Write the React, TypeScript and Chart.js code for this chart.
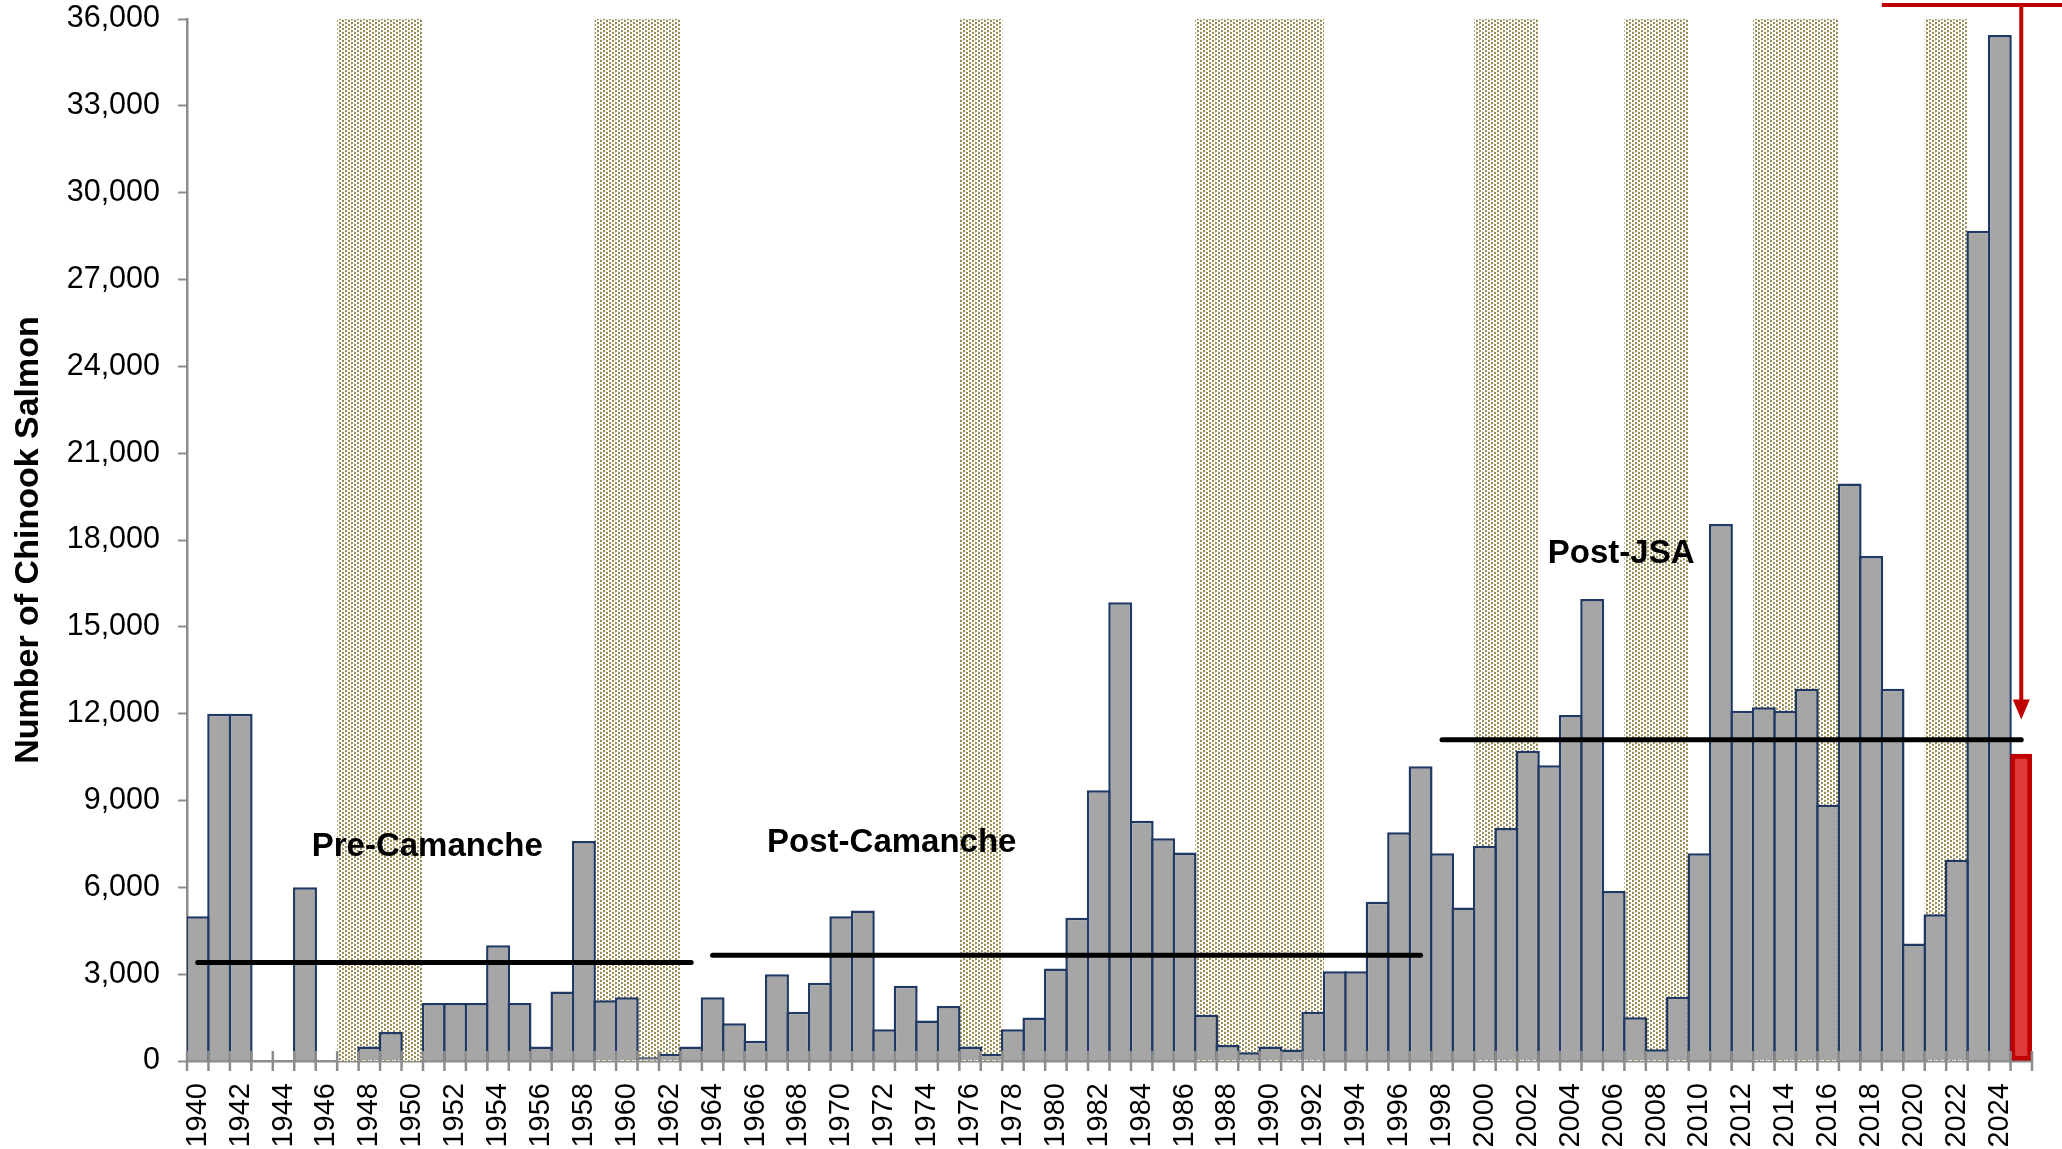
import React, { useEffect, useRef } from 'react';
import { Chart, registerables } from 'chart.js';

Chart.register(...registerables);

// ---- categories ----
const years: string[] = [
  '1940', '1941', '1942', '1943', '1944', '1945', '1946', '1947', '1948', '1949',
  '1950', '1951', '1952', '1953', '1954', '1955', '1956', '1957', '1958', '1959',
  '1960', '1961', '1962', '1963', '1964', '1965', '1966', '1967', '1968', '1969',
  '1970', '1971', '1972', '1973', '1974', '1975', '1976', '1977', '1978', '1979',
  '1980', '1981', '1982', '1983', '1984', '1985', '1986', '1987', '1988', '1989',
  '1990', '1991', '1992', '1993', '1994', '1995', '1996', '1997', '1998', '1999',
  '2000', '2001', '2002', '2003', '2004', '2005', '2006', '2007', '2008', '2009',
  '2010', '2011', '2012', '2013', '2014', '2015', '2016', '2017', '2018', '2019',
  '2020', '2021', '2022', '2023', '2024', '2025',
];

// ---- Chinook salmon escapement, 1940-2024 ----
const chinookCounts: (number | null)[] = [
  5000, 12000, 12000, null, null, 6000, null, null, 500, 1000,
  null, 2000, 2000, 2000, 4000, 2000, 500, 2400, 7600, 2100,
  2200, 130, 250, 500, 2200, 1300, 700, 3000, 1700, 2700,
  5000, 5200, 1100, 2600, 1400, 1900, 500, 250, 1100, 1500,
  3200, 4950, 9350, 15850, 8300, 7700, 7200, 1600, 550, 300,
  500, 400, 1700, 3100, 3100, 5500, 7900, 10180, 7180, 5300,
  7440, 8050, 10720, 10220, 11950, 15960, 5870, 1510, 410, 2220,
  7180, 18550, 12100, 12220, 12100, 12860, 8850, 19950, 17450, 12860,
  4060, 5070, 6950, 28680, 35450,
];

// ---- 2025 (highlighted) ----
const highlightYear = '2025';
const highlightCount = 10600;

// ---- period averages ----
const periodNames = ['Pre-Camanche', 'Post-Camanche', 'Post-JSA'];
const periodStartYears = ['1940', '1964', '1998'];
const periodEndYears = ['1963', '1997', '2025'];
const periodAverages = [3400, 3650, 11100];
// label anchors (fractional year, value)
const periodLabelYears = [1950.7, 1972.35, 2006.35];
const periodLabelValues = [7400, 7540, 17530];

// ---- shaded (dry) periods ----
const shadedStartYears = [1947, 1959, 1976, 1987, 2000, 2007, 2013, 2021];
const shadedEndYears = [1950, 1962, 1977, 1992, 2002, 2009, 2016, 2022];

// ---- y axis ----
const yMax = 36000;
const yStep = 3000;
const arrowTipValue = 11800;
const bracketStartYear = 2019;

const FONT = "'Liberation Sans', Arial, sans-serif";

function makePattern(ctx: CanvasRenderingContext2D) {
  const c = document.createElement('canvas');
  c.width = 6;
  c.height = 4;
  const p = c.getContext('2d')!;
  p.fillStyle = '#ffffff';
  p.fillRect(0, 0, 6, 4);
  p.fillStyle = '#978D55';
  p.fillRect(0, 0, 2, 2);
  p.fillRect(3, 2, 2, 2);
  p.fillStyle = '#CFC9A8';
  p.fillRect(0, 3, 1, 1);
  p.fillRect(3, 0, 1, 1);
  return ctx.createPattern(c, 'repeat');
}

const firstYear = parseInt(years[0], 10);

const decorPlugin = {
  id: 'decor',
  beforeDatasetsDraw(chart: any) {
    const { ctx, chartArea } = chart;
    const xs = chart.scales.x;
    const catW = (xs.right - xs.left) / years.length;
    const pat = makePattern(ctx);
    ctx.save();
    ctx.fillStyle = pat || '#D9D4B8';
    for (let i = 0; i < shadedStartYears.length; i++) {
      const x0 = xs.getPixelForValue(shadedStartYears[i] - firstYear) - catW / 2;
      const x1 = xs.getPixelForValue(shadedEndYears[i] - firstYear) + catW / 2;
      ctx.fillRect(x0, chartArea.top, x1 - x0, chartArea.bottom - chartArea.top);
    }
    ctx.restore();
  },
  afterDatasetsDraw(chart: any) {
    const { ctx } = chart;
    const xs = chart.scales.x;
    const ys = chart.scales.y;
    const n = years.length;
    const catW = (xs.right - xs.left) / n;
    const bottom = ys.getPixelForValue(0);
    // crossing tick marks on x axis
    ctx.save();
    ctx.strokeStyle = '#8C8C8C';
    ctx.lineWidth = 2.5;
    for (let i = 0; i <= n; i++) {
      const x = xs.left + i * catW;
      ctx.beginPath();
      ctx.moveTo(x, bottom - 10);
      ctx.lineTo(x, bottom + 10);
      ctx.stroke();
    }
    ctx.restore();
    // period labels
    ctx.save();
    ctx.fillStyle = '#000';
    ctx.font = `bold 33px ${FONT}`;
    ctx.textAlign = 'center';
    ctx.textBaseline = 'middle';
    for (let i = 0; i < periodNames.length; i++) {
      const x = xs.getPixelForValue(periodLabelYears[i] - firstYear);
      const y = ys.getPixelForValue(periodLabelValues[i]);
      ctx.fillText(periodNames[i], x, y);
    }
    ctx.restore();
  },
  afterDraw(chart: any) {
    const { ctx } = chart;
    const xs = chart.scales.x;
    const ys = chart.scales.y;
    const catW = (xs.right - xs.left) / years.length;
    const ax = xs.getPixelForValue(years.indexOf(highlightYear));
    const tipY = ys.getPixelForValue(arrowTipValue);
    const topY = 5;
    const headH = 20;
    const headW = 17;
    ctx.save();
    ctx.strokeStyle = '#C00000';
    ctx.fillStyle = '#C00000';
    ctx.lineWidth = 4;
    ctx.beginPath();
    ctx.moveTo(xs.getPixelForValue(bracketStartYear - firstYear) - catW / 2, topY);
    ctx.lineTo(chart.width, topY);
    ctx.stroke();
    ctx.beginPath();
    ctx.moveTo(ax, topY);
    ctx.lineTo(ax, tipY - headH + 2);
    ctx.stroke();
    ctx.beginPath();
    ctx.moveTo(ax, tipY);
    ctx.lineTo(ax - headW / 2, tipY - headH);
    ctx.lineTo(ax + headW / 2, tipY - headH);
    ctx.closePath();
    ctx.fill();
    ctx.restore();
  },
};

export default function App() {
  const canvasRef = useRef<HTMLCanvasElement | null>(null);

  useEffect(() => {
    const canvas = canvasRef.current;
    if (!canvas) return;

    const lineDatasets: any[] = periodAverages.map((avg, i) => ({
      type: 'line',
      label: periodNames[i] + ' average',
      data: [
        { x: periodStartYears[i], y: avg },
        { x: periodEndYears[i], y: avg },
      ],
      borderColor: '#000000',
      borderWidth: 5,
      borderCapStyle: 'round',
      pointRadius: 0,
      fill: false,
      order: 0,
    }));

    const chart = new Chart(canvas, {
      type: 'bar',
      data: {
        labels: years,
        datasets: [
          ...lineDatasets,
          {
            type: 'bar',
            label: '2025',
            data: years.map((y) => (y === highlightYear ? highlightCount : null)),
            backgroundColor: '#DF3A3A',
            borderColor: '#C00000',
            borderWidth: 5,
            borderSkipped: false,
            categoryPercentage: 1,
            barPercentage: 1,
            grouped: false,
            order: 1,
          },
          {
            type: 'bar',
            label: 'Chinook Salmon',
            data: chinookCounts,
            backgroundColor: '#A6A6A6',
            borderColor: '#1F3864',
            borderWidth: { top: 2.5, left: 2.5, right: 2.5, bottom: 0 },
            borderSkipped: 'start',
            categoryPercentage: 1,
            barPercentage: 1.116,
            grouped: false,
            order: 2,
          },
        ],
      } as any,
      options: {
        responsive: false,
        animation: false,
        events: [],
        layout: { padding: { top: 19, right: 30, left: 0, bottom: 0 } },
        plugins: {
          legend: { display: false },
          tooltip: { enabled: false },
        },
        scales: {
          x: {
            type: 'category',
            offset: true,
            z: 1,
            grid: { display: false, offset: true },
            border: { display: true, color: '#8C8C8C', width: 2.5 },
            ticks: {
              autoSkip: false,
              minRotation: 90,
              maxRotation: 90,
              padding: 14,
              color: '#000',
              font: { family: FONT, size: 29 },
              callback: (_v: any, idx: number) =>
                parseInt(years[idx], 10) % 2 === 0 && years[idx] !== highlightYear ? years[idx] : '',
            },
            afterFit: (s: any) => {
              s.height = 88;
              s.paddingLeft = 0;
              s.paddingRight = 0;
            },
          },
          y: {
            min: 0,
            max: yMax,
            z: 1,
            grid: {
              display: true,
              drawOnChartArea: false,
              drawTicks: true,
              tickLength: 9,
              tickColor: '#8C8C8C',
              tickWidth: 2,
            },
            border: { display: true, color: '#8C8C8C', width: 2.5 },
            ticks: {
              stepSize: yStep,
              padding: 18,
              color: '#000',
              font: { family: FONT, size: 30.5 },
              callback: (v: any) => Number(v).toLocaleString('en-US'),
            },
            title: {
              display: true,
              text: 'Number of Chinook Salmon',
              color: '#000',
              font: { family: FONT, size: 34, weight: 'bold' },
              padding: { top: 8, bottom: 0 },
            },
            afterFit: (s: any) => {
              s.width = 187;
              s.paddingTop = 0;
              s.paddingBottom = 0;
            },
          },
        },
      } as any,
      plugins: [decorPlugin],
    });

    return () => {
      chart.destroy();
    };
  }, []);

  return (
    <div
      style={{
        position: 'fixed',
        left: 0,
        top: 0,
        width: '2062px',
        height: '1149px',
        background: '#ffffff',
      }}
    >
      <canvas ref={canvasRef} width={2062} height={1149} style={{ display: 'block' }} />
    </div>
  );
}
